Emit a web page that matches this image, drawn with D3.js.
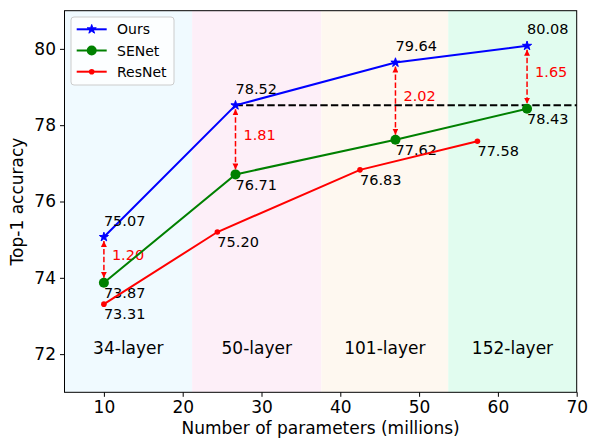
<!DOCTYPE html>
<html>
<head>
<meta charset="utf-8">
<script src="https://cdn.jsdelivr.net/npm/d3@7"></script>
<style>
  body { margin: 0; background: #fff; }
  text { font-family: "DejaVu Sans", sans-serif; }
</style>
</head>
<body>
<div id="chart"></div>
<script>
// values
var paramsNew = [10, 26.7, 47.0, 63.7];     // Ours and SENet share x
var accOurs = [75.07, 78.52, 79.64, 80.08];
var accSENet = [73.87, 76.71, 77.62, 78.43];
var paramsResNet = [10, 24.4, 42.5, 57.4];
var accResNet = [73.31, 75.20, 76.83, 77.58];
var gapLabels = ["1.20", "1.81", "2.02", "1.65"];
var layerNames = ["34-layer", "50-layer", "101-layer", "152-layer"];
var layerEdges = [5, 21.2, 37.6, 53.7, 70];
var layerColors = ["#f0faff", "#fdeff8", "#fef8f0", "#e1fcef"];
var xTicks = [10, 20, 30, 40, 50, 60, 70];
var yTicks = [72, 74, 76, 78, 80];

var W = 589, H = 440;
var margin = {top: 10.7, right: 12.3, bottom: 47.7, left: 64.5};
var width = W - margin.left - margin.right;
var height = H - margin.top - margin.bottom;

var svg = d3.select('#chart').append('svg')
    .attr('width', W)
    .attr('height', H);

svg.append('rect').attr('width', W).attr('height', H).attr('fill', '#fff');

var x = d3.scaleLinear().domain([5, 70]).range([0, width]);
var y = d3.scaleLinear().domain([71, 81]).range([height, 0]);

var graph = svg.append('g')
    .attr('transform', 'translate(' + margin.left + ',' + margin.top + ')');

// Shaded layer bands
var bands = layerNames.map(function(name, i) {
    return {name: name, x0: layerEdges[i], x1: layerEdges[i + 1], color: layerColors[i]};
});
graph.selectAll('rect.band')
    .data(bands)
    .enter().append('rect')
    .attr('x', function(d) { return x(d.x0); })
    .attr('width', function(d) { return x(d.x1) - x(d.x0); })
    .attr('y', 0)
    .attr('height', height)
    .attr('fill', function(d) { return d.color; });

graph.selectAll('text.band')
    .data(bands)
    .enter().append('text')
    .attr('x', function(d) { return x((d.x0 + d.x1) / 2); })
    .attr('y', y(72))
    .attr('text-anchor', 'middle')
    .style('font-size', '17px')
    .attr('fill', '#000')
    .text(function(d) { return d.name; });

// Reference dashed line at Ours-50
graph.append('line')
    .attr('x1', x(paramsNew[1])).attr('x2', x(70))
    .attr('y1', y(accOurs[1])).attr('y2', y(accOurs[1]))
    .attr('stroke', '#000')
    .attr('stroke-width', 2)
    .attr('stroke-dasharray', '7.4,3.2');

// Gap arrows
var defs = svg.append('defs');
defs.append('marker')
    .attr('id', 'arrowHead')
    .attr('viewBox', '0 0 10 10')
    .attr('refX', 10).attr('refY', 5)
    .attr('markerWidth', 6).attr('markerHeight', 6)
    .attr('markerUnits', 'userSpaceOnUse')
    .attr('orient', 'auto-start-reverse')
    .append('path')
    .attr('d', 'M0,0 L10,5 L0,10 Z')
    .attr('fill', '#ff0000');

var gaps = paramsNew.map(function(p, i) {
    return {x: p, top: accOurs[i], bottom: accSENet[i], label: gapLabels[i]};
});
graph.selectAll('line.gap')
    .data(gaps)
    .enter().append('line')
    .attr('x1', function(d) { return x(d.x); })
    .attr('x2', function(d) { return x(d.x); })
    .attr('y1', function(d) { return y(d.top) + 4; })
    .attr('y2', function(d) { return y(d.bottom) - 5; })
    .attr('stroke', '#ff0000')
    .attr('stroke-width', 1.5)
    .attr('stroke-dasharray', '5.5,2.4')
    .attr('marker-start', 'url(#arrowHead)')
    .attr('marker-end', 'url(#arrowHead)');

graph.selectAll('text.gap')
    .data(gaps)
    .enter().append('text')
    .attr('x', function(d) { return x(d.x) + 8; })
    .attr('y', function(d) { return y((d.top + d.bottom) / 2); })
    .attr('fill', '#ff0000')
    .style('font-size', '14.5px')
    .text(function(d) { return d.label; });

// Series
var series = [
    {name: 'Ours', color: '#0000ff', xs: paramsNew, ys: accOurs, marker: 'star', dy: 0.3},
    {name: 'SENet', color: '#008000', xs: paramsNew, ys: accSENet, marker: 'big', dy: -0.4},
    {name: 'ResNet', color: '#ff0000', xs: paramsResNet, ys: accResNet, marker: 'small', dy: -0.4}
];

var line = d3.line()
    .x(function(d) { return x(d[0]); })
    .y(function(d) { return y(d[1]); });

function drawMarker(sel, kind, color) {
    if (kind === 'star') {
        sel.append('path')
            .attr('d', d3.symbol().type(d3.symbolStar).size(26)())
            .attr('fill', color)
            .attr('stroke', color)
            .attr('stroke-width', 1);
    } else {
        sel.append('circle')
            .attr('r', kind === 'big' ? 5 : 2.8)
            .attr('fill', color);
    }
}

series.forEach(function(s) {
    var pts = s.xs.map(function(v, i) { return [v, s.ys[i]]; });
    graph.append('path')
        .datum(pts)
        .attr('d', line)
        .attr('fill', 'none')
        .attr('stroke', s.color)
        .attr('stroke-width', 2);

    graph.selectAll(null)
        .data(pts)
        .enter().append('g')
        .attr('transform', function(d) { return 'translate(' + x(d[0]) + ',' + y(d[1]) + ')'; })
        .each(function() { drawMarker(d3.select(this), s.marker, s.color); });

    graph.selectAll(null)
        .data(pts)
        .enter().append('text')
        .attr('x', function(d) { return x(d[0]); })
        .attr('y', function(d) { return y(d[1] + s.dy); })
        .style('font-size', '14.5px')
        .attr('fill', '#000')
        .text(function(d) { return d[1].toFixed(2); });
});

// Axes
var xAxis = d3.axisBottom(x).tickValues(xTicks).tickSizeOuter(0).tickSize(4.5).tickPadding(4);
var yAxis = d3.axisLeft(y).tickValues(yTicks).tickSizeOuter(0).tickSize(4.5).tickPadding(4);

graph.append('g')
    .attr('transform', 'translate(0,' + height + ')')
    .call(xAxis)
    .call(function(g) { g.select('.domain').remove(); })
    .selectAll('text')
    .style('font-size', '17px')
    .attr('fill', '#000')
    .attr('font-family', 'DejaVu Sans');

graph.append('g')
    .call(yAxis)
    .call(function(g) { g.select('.domain').remove(); })
    .selectAll('text')
    .style('font-size', '17px')
    .attr('fill', '#000')
    .attr('font-family', 'DejaVu Sans');

graph.append('rect')
    .attr('width', width).attr('height', height)
    .attr('fill', 'none')
    .attr('stroke', '#000')
    .attr('stroke-width', 1);

svg.append('text')
    .attr('x', margin.left + width / 2)
    .attr('y', 434)
    .attr('text-anchor', 'middle')
    .style('font-size', '17px')
    .text('Number of parameters (millions)');

svg.append('text')
    .attr('transform', 'translate(23,' + (margin.top + height / 2) + ') rotate(-90)')
    .attr('text-anchor', 'middle')
    .style('font-size', '17px')
    .text('Top-1 accuracy');

// Legend
var legend = svg.append('g').attr('transform', 'translate(71,17)');
legend.append('rect')
    .attr('width', 103).attr('height', 68).attr('rx', 3)
    .attr('fill', '#fff').attr('fill-opacity', 0.8)
    .attr('stroke', '#ccc').attr('stroke-width', 1);

series.forEach(function(s, i) {
    var row = legend.append('g').attr('transform', 'translate(0,' + (12.3 + i * 21.2) + ')');
    row.append('line')
        .attr('x1', 5.7).attr('x2', 35.7)
        .attr('stroke', s.color).attr('stroke-width', 2);
    var m = row.append('g').attr('transform', 'translate(20.7,0)');
    drawMarker(m, s.marker, s.color);
    row.append('text')
        .attr('x', 46)
        .attr('y', 5)
        .style('font-size', '14px')
        .text(s.name);
});
</script>
</body>
</html>
